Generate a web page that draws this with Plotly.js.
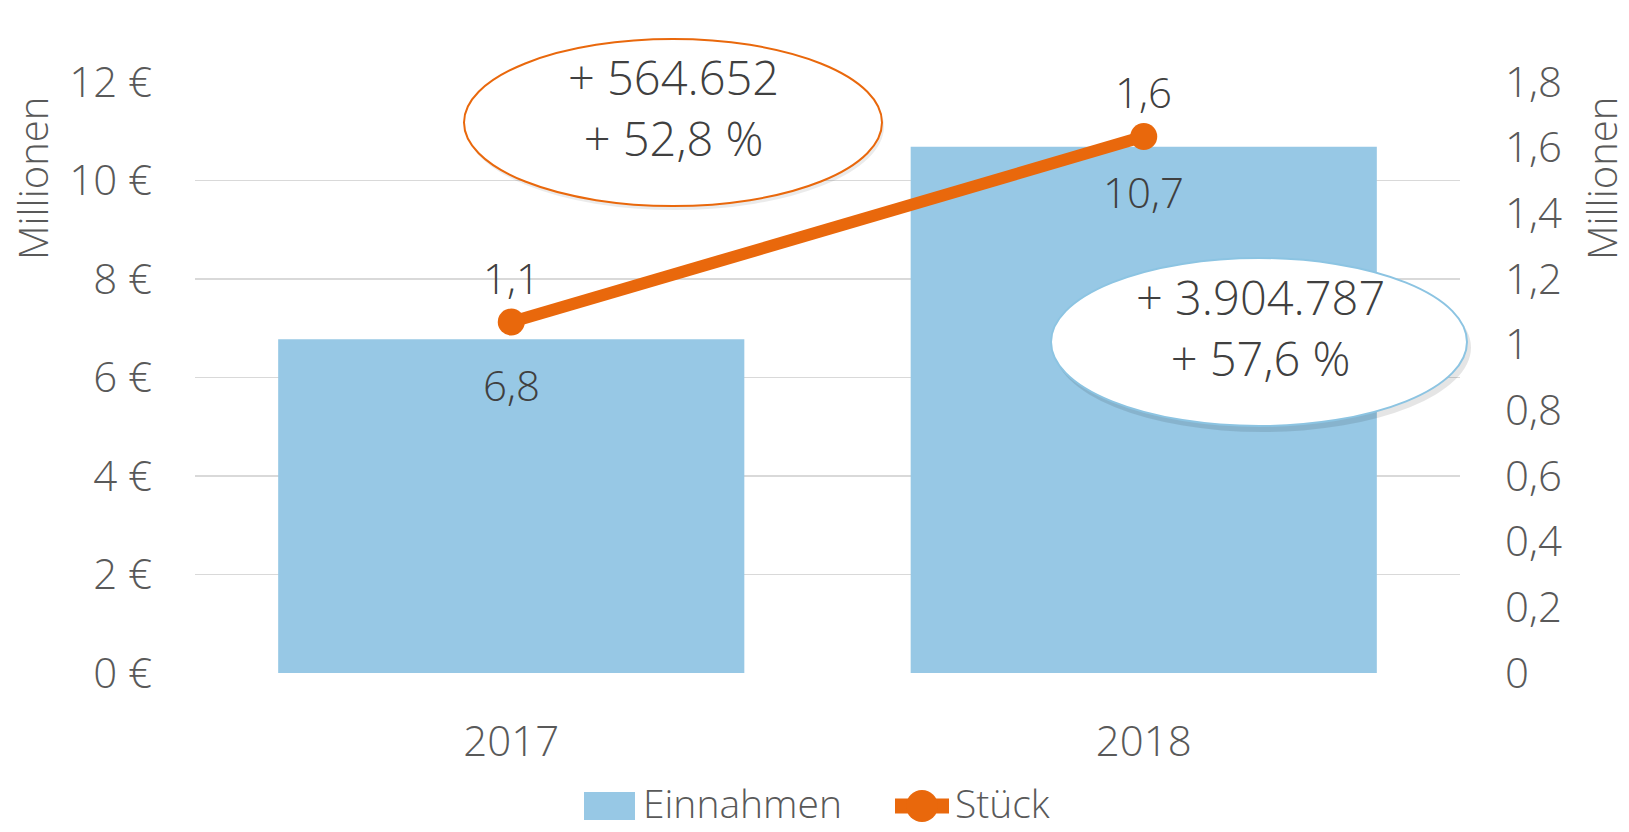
<!DOCTYPE html>
<html><head><meta charset="utf-8">
<script src="https://cdn.plot.ly/plotly-3.0.1.min.js"></script>
<style>html,body{margin:0;padding:0;background:#fff;}#chart{width:1629px;height:832px;}</style>
</head><body><div id="chart"></div>
<script>
const years = ['2017', '2018'];
const einnahmen = [6.779, 10.684];      // Mio €
const stueck = [1.069, 1.634];          // Mio Stück
const einnahmenLabels = ['6,8', '10,7'];
const stueckLabels = ['1,1', '1,6'];
const bubbleStueck = ['+ 564.652', '+ 52,8 %'];
const bubbleEinnahmen = ['+ 3.904.787', '+ 57,6 %'];
const leftTicks = [0, 2, 4, 6, 8, 10, 12];
const leftTickText = ['0 €', '2 €', '4 €', '6 €', '8 €', '10 €', '12 €'];
const rightTicks = [0, 0.2, 0.4, 0.6, 0.8, 1, 1.2, 1.4, 1.6, 1.8];
const rightTickText = ['0', '0,2', '0,4', '0,6', '0,8', '1', '1,2', '1,4', '1,6', '1,8'];
const seriesNames = ['Einnahmen', 'Stück'];

const FONT = 'Open Sans, sans-serif';
const GRAY = '#595959';
const DARK = '#404040';
const BLUE = '#97C8E5';
const ORANGE = '#E9680C';
const FS = 42;

const W = 1629, H = 832, L = 195, R = 169, T = 82, B = 159;
const pw = W - L - R, ph = H - T - B;
const px = x => (x - L) / pw;
const py = y => (H - B - y) / ph;

const traces = [
  {type: 'bar', name: seriesNames[0], x: years, y: einnahmen, marker: {color: BLUE},
   hoverinfo: 'skip', yaxis: 'y', showlegend: false},
  {type: 'scatter', mode: 'lines+markers', name: seriesNames[1], x: years, y: stueck, yaxis: 'y2',
   line: {color: ORANGE, width: 12}, marker: {color: ORANGE, size: 27}, hoverinfo: 'skip', showlegend: false}
];

const f = (size, color) => ({family: FONT, size: size, color: color, weight: 300});
const annotations = [];
years.forEach((yr, i) => {
  annotations.push({x: i, y: einnahmen[i], xref: 'x', yref: 'y', text: einnahmenLabels[i],
    xanchor: 'center', yanchor: 'middle', showarrow: false, yshift: -45, font: f(FS, DARK)});
  annotations.push({x: i, y: stueck[i], xref: 'x', yref: 'y2', text: stueckLabels[i],
    xanchor: 'center', yanchor: 'middle', showarrow: false, yshift: 45, font: f(FS, DARK)});
});
annotations.push({x: px(673), y: py(108), xref: 'paper', yref: 'paper', text: bubbleStueck.join('<br>'),
  xanchor: 'center', yanchor: 'middle', showarrow: false, font: f(47, DARK)});
annotations.push({x: px(1260), y: py(327), xref: 'paper', yref: 'paper', text: bubbleEinnahmen.join('<br>'),
  xanchor: 'center', yanchor: 'middle', showarrow: false, font: f(47, DARK)});
annotations.push({x: px(32), y: py(179), xref: 'paper', yref: 'paper', text: 'Millionen', textangle: -90,
  xanchor: 'center', yanchor: 'middle', showarrow: false, font: f(40, GRAY)});
annotations.push({x: px(1601), y: py(179), xref: 'paper', yref: 'paper', text: 'Millionen', textangle: -90,
  xanchor: 'center', yanchor: 'middle', showarrow: false, font: f(40, GRAY)});
// legend texts
annotations.push({x: px(641), y: py(802), xref: 'paper', yref: 'paper', text: seriesNames[0],
  xanchor: 'left', yanchor: 'middle', showarrow: false, font: f(39, GRAY)});
annotations.push({x: px(953), y: py(802), xref: 'paper', yref: 'paper', text: seriesNames[1],
  xanchor: 'left', yanchor: 'middle', showarrow: false, font: f(39, GRAY)});

const shapes = [
  {type: 'circle', xref: 'paper', yref: 'paper', x0: px(466), x1: px(884), y0: py(210), y1: py(43),
   fillcolor: 'rgba(0,0,0,0.08)', line: {width: 0}, layer: 'above'},
  {type: 'circle', xref: 'paper', yref: 'paper', x0: px(464), x1: px(882), y0: py(206), y1: py(39),
   fillcolor: '#ffffff', line: {color: ORANGE, width: 2}, layer: 'above'},
  {type: 'circle', xref: 'paper', yref: 'paper', x0: px(1054), x1: px(1471), y0: py(432), y1: py(263),
   fillcolor: 'rgba(0,0,0,0.10)', line: {width: 0}, layer: 'above'},
  {type: 'circle', xref: 'paper', yref: 'paper', x0: px(1051), x1: px(1467), y0: py(426), y1: py(258),
   fillcolor: '#ffffff', line: {color: '#8CC4E2', width: 2}, layer: 'above'},
  // legend symbols
  {type: 'rect', xref: 'paper', yref: 'paper', x0: px(584), x1: px(635), y0: py(820), y1: py(792),
   fillcolor: BLUE, line: {width: 0}},
  {type: 'line', xref: 'paper', yref: 'paper', x0: px(895), x1: px(949), y0: py(806), y1: py(806),
   line: {color: ORANGE, width: 15}},
  {type: 'circle', xref: 'paper', yref: 'paper', x0: px(906), x1: px(938), y0: py(822), y1: py(790),
   fillcolor: ORANGE, line: {width: 0}}
];

const layout = {
  width: W, height: H,
  margin: {l: L, r: R, t: T, b: B, pad: 0},
  paper_bgcolor: '#ffffff', plot_bgcolor: '#ffffff',
  font: f(FS, GRAY),
  separators: ',.',
  bargap: 0.263,
  showlegend: false,
  xaxis: {type: 'category', range: [-0.5, 1.5], showgrid: false, zeroline: false, showline: false, ticks: '',
          ticklabelstandoff: 40, tickfont: f(FS, GRAY)},
  yaxis: {range: [0, 12], tickmode: 'array', tickvals: leftTicks, ticktext: leftTickText,
          showgrid: true, gridcolor: '#D9D9D9', gridwidth: 1.5,
          zeroline: false, showline: false, ticks: '', ticklabelstandoff: 42, tickfont: f(FS, GRAY)},
  yaxis2: {range: [0, 1.8], tickmode: 'array', tickvals: rightTicks, ticktext: rightTickText,
           overlaying: 'y', side: 'right', showgrid: false,
           zeroline: false, showline: false, ticks: '', ticklabelstandoff: 44, tickfont: f(FS, GRAY)},
  annotations: annotations,
  shapes: shapes
};

Plotly.newPlot('chart', traces, layout, {displayModeBar: false, staticPlot: true});
</script></body></html>
